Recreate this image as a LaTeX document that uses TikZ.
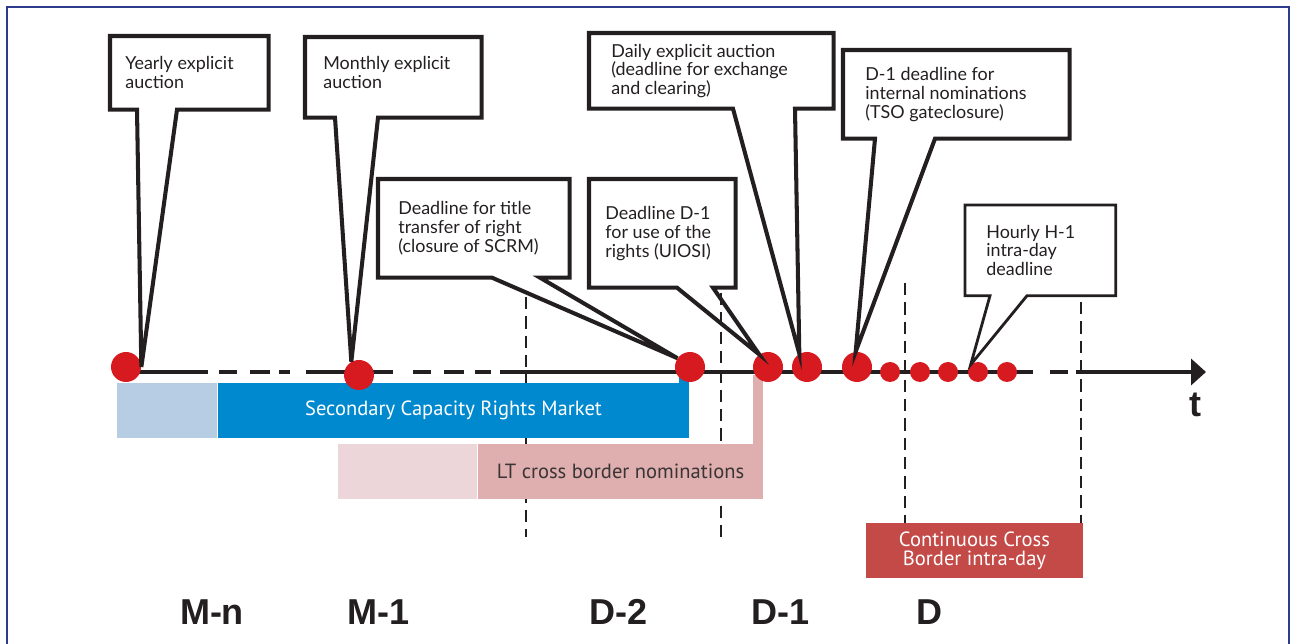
\documentclass[tikz,border=0pt]{standalone}
\usepackage{fontspec}
\setmainfont{Lato}
\newfontfamily\barfont{PT Sans}
\newfontfamily\dayfont{Liberation Sans}
\usetikzlibrary{positioning,calc,arrows.meta}

\definecolor{frameblue}{HTML}{2E3A8C}
\definecolor{markred}{HTML}{D71920}
\definecolor{scrmblue}{HTML}{0089CF}
\definecolor{scrmpale}{HTML}{B7CDE3}
\definecolor{ltrose}{HTML}{DFAEAE}
\definecolor{ltpale}{HTML}{ECD6DA}
\definecolor{cbred}{HTML}{C44A48}
\definecolor{inkgray}{HTML}{231F20}

\tikzset{
  notebox/.style={rectangle,inner sep=0pt,anchor=north west},
  notetext/.style={inner sep=0pt,align=left,text=inkgray,
    font=\fontsize{10.2}{10.7}\selectfont},
  bubble/.style={draw=inkgray,line width=2.3pt},
  bar/.style={rectangle,inner sep=0pt,minimum height=1.1cm,
    font=\barfont\fontsize{11.7}{11}\selectfont},
  bigmark/.style={circle,fill=markred,inner sep=0pt,minimum size=0.6cm},
  smallmark/.style={circle,fill=markred,inner sep=0pt,minimum size=0.4cm},
  daylabel/.style={text=inkgray,font=\dayfont\bfseries\fontsize{20.5}{22}\selectfont},
  divider/.style={inkgray,line width=1.2pt,dash pattern=on 7pt off 4pt},
  timeline/.style={inkgray,line width=2.3pt,-{Triangle[length=0.3cm,width=0.52cm]},
    dash pattern=on 46.7pt off 6.3pt on 10.2pt off 7.4pt on 11.4pt off 5.1pt
      on 6.3pt off 9.1pt on 49.5pt off 11.4pt on 10.2pt off 7.4pt on 11.4pt
      off 6.3pt on 9.1pt off 5.1pt on 303.3pt off 9.7pt on 10.2pt off 4.6pt
      on 100pt off 10pt}
}

\begin{document}
\begin{tikzpicture}[x=0.02cm,y=-0.02cm]
  \useasboundingbox (0,0) rectangle (1292,644);
  \draw[frameblue,line width=1.6pt] (7,660) -- (7,7) -- (1289,7) -- (1289,660);

  % day boundaries
  \draw[divider] (526,297) -- (526,537);
  \draw[divider] (721,293) -- (721,541);
  \draw[divider] (905,283) -- (905,523);
  \draw[divider] (1081,302) -- (1081,523);

  % market windows
  \node[bar,fill=scrmblue,text=white,minimum width=9.42cm] (scrm) at (453.5,410.5)
    {Secondary Capacity Rights Market};
  \node[bar,fill=scrmpale,minimum width=2cm,left=0pt of scrm] (scrm early) {};
  \fill[scrmblue] ($(scrm.north east)+(-10,0)$) rectangle ($(scrm.north east)+(0,-6)$);

  \node[bar,fill=ltrose,text=inkgray!90,minimum width=5.7cm] (ltnom) at (620.5,471.5)
    {LT cross border nominations};
  \node[bar,fill=ltpale,minimum width=2.78cm,left=0pt of ltnom] (ltnom early) {};
  \fill[ltrose] ($(ltnom.north east)+(-10,0)$) rectangle ($(ltnom.north east)+(0,-69)$);

  \node[bar,fill=cbred,text=white,minimum width=4.34cm,align=center] (intraday)
    at (974.5,550.5) {Continuous Cross\\Border intra-day};

  % time axis
  \coordinate (axis start) at (126,372);
  \coordinate (axis end) at (1206,372);
  \draw[timeline] (axis start) -- (axis end);
  \node[daylabel] (tlabel) at (1195,405) {t};

  % deadlines
  \node[bigmark] (yearly dot) at (126,367) {};
  \node[bigmark] (monthly dot) at (359,375) {};
  \node[bigmark] (scrm dot) at (690,367) {};
  \node[bigmark] (uiosi dot) at (768,367) {};
  \node[bigmark] (daily dot) at (807,367) {};
  \node[bigmark] (tso dot) at (857,367) {};
  \node[smallmark] (hour1) at (890,372) {};
  \node[smallmark] (hour2) at (920,372) {};
  \node[smallmark] (hour3) at (948,372) {};
  \node[smallmark] (hour4) at (978,372) {};
  \node[smallmark] (hour5) at (1007,372) {};

  % callouts
  \node[notebox,minimum width=3.16cm,minimum height=1.46cm] (yearly) at (110,36) {};
  \node[notetext,right=0.3cm of yearly.west] (yearly text) {Yearly explicit\\auction};
  \draw[bubble] (yearly.north west) -- (yearly.north east) -- (yearly.south east)
    -- ($(yearly.south west)+(67,0)$) -- (yearly dot.east)
    -- ($(yearly.south west)+(27,0)$) -- (yearly.south west) -- cycle;

  \node[notebox,minimum width=3.52cm,minimum height=1.6cm] (monthly) at (305,37) {};
  \node[notetext,right=0.36cm of monthly.west,yshift=0.1cm] (monthly text)
    {Monthly explicit\\auction};
  \draw[bubble] (monthly.north west) -- (monthly.north east) -- (monthly.south east)
    -- ($(monthly.south west)+(73,0)$) -- (monthly dot.120)
    -- ($(monthly.south west)+(30,0)$) -- (monthly.south west) -- cycle;

  \node[notebox,minimum width=3.82cm,minimum height=1.96cm] (title) at (378,179) {};
  \node[notetext,right=0.4cm of title.west] (title text)
    {Deadline for title\\transfer of right\\(closure of SCRM)};
  \draw[bubble] (title.north west) -- (title.north east) -- (title.south east)
    -- ($(title.south west)+(162,0)$) -- (scrm dot.145)
    -- ($(title.south west)+(114,0)$) -- (title.south west) -- cycle;

  \node[notebox,minimum width=2.92cm,minimum height=2.16cm] (uiosi) at (589,179) {};
  \node[notetext,right=0.32cm of uiosi.west] (uiosi text)
    {Deadline D-1\\for use of the\\rights (UIOSI)};
  \draw[bubble] (uiosi.north west) -- (uiosi.north east) -- (uiosi.south east)
    -- ($(uiosi.south west)+(124,0)$) -- (uiosi dot.125)
    -- ($(uiosi.south west)+(88,0)$) -- (uiosi.south west) -- cycle;

  \node[notebox,minimum width=4.88cm,minimum height=1.5cm] (daily) at (589,33) {};
  \node[notetext,right=0.44cm of daily.west] (daily text)
    {Daily explicit auction\\(deadline for exchange\\and clearing)};
  \draw[bubble] (daily.north west) -- (daily.north east) -- (daily.south east)
    -- ($(daily.south west)+(206,0)$) -- (daily dot.120)
    -- ($(daily.south west)+(144,0)$) -- (daily.south west) -- cycle;

  \node[notebox,minimum width=4.52cm,minimum height=1.76cm] (tso) at (843,50) {};
  \node[notetext,right=0.44cm of tso.west] (tso text)
    {D-1 deadline for\\internal nominations\\(TSO gateclosure)};
  \draw[bubble] (tso.north west) -- (tso.north east) -- (tso.south east)
    -- ($(tso.south west)+(92,0)$) -- (tso dot.95)
    -- ($(tso.south west)+(32,0)$) -- (tso.south west) -- cycle;

  \node[notebox,minimum width=3cm,minimum height=1.8cm] (hourly) at (965,205) {};
  \node[notetext,right=0.42cm of hourly.west] (hourly text)
    {Hourly H-1\\intra-day\\deadline};
  \draw[bubble,line width=1.6pt] (hourly.north west) -- (hourly.north east)
    -- (hourly.south east) -- ($(hourly.south west)+(62,0)$) -- (hour4.135)
    -- ($(hourly.south west)+(25,0)$) -- (hourly.south west) -- cycle;

  % periods
  \node[daylabel] (mn) at (212,612) {M-n};
  \node[daylabel] (m1) at (379,612) {M-1};
  \node[daylabel] (d2) at (619,612) {D-2};
  \node[daylabel] (d1) at (781,612) {D-1};
  \node[daylabel] (d0) at (929,612) {D};
\end{tikzpicture}
\end{document}
